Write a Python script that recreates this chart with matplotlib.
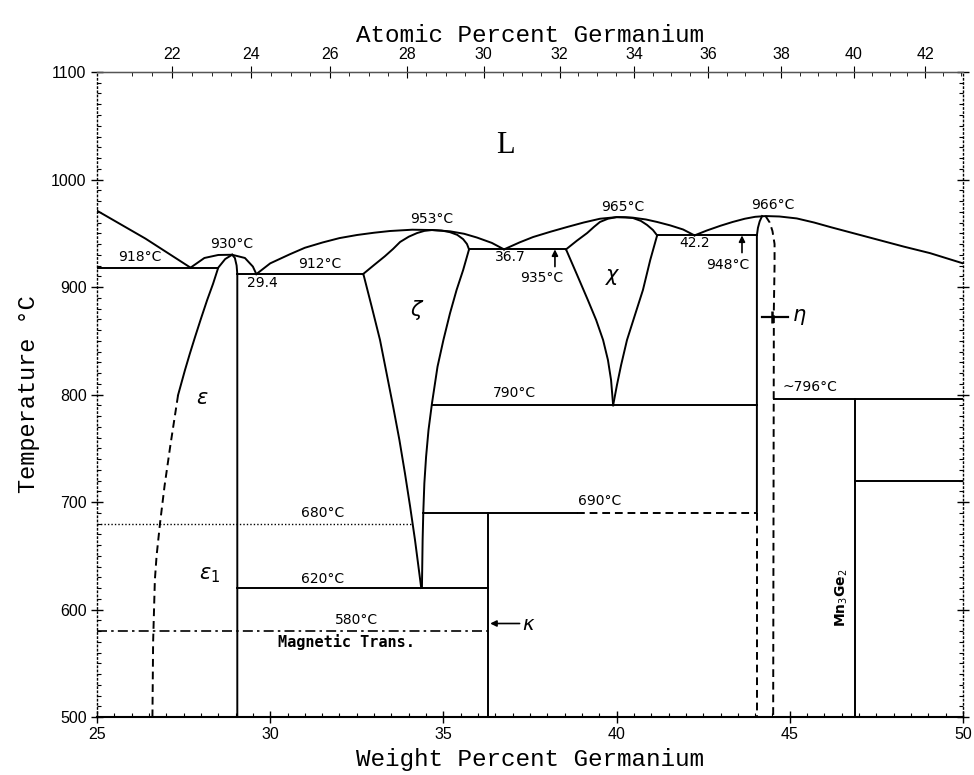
import matplotlib
matplotlib.use("Agg")
import matplotlib.pyplot as plt
import numpy as np

# ---------------- data (wt% Ge, temperature degC) ----------------
liq_a_wt = [25.0, 26.4, 27.7]
liq_a_T = [971, 945, 918]
liq_eps_wt = [27.7, 28.1, 28.5, 28.9, 29.27, 29.5, 29.6]
liq_eps_T = [918, 927, 929.8, 930, 927, 919, 912]
liq_zeta_wt = [29.6, 30.0, 30.57, 31.0, 31.52, 32.0, 32.51, 33.0, 33.46, 34.1, 34.67, 35.19, 35.6, 35.97, 36.4, 36.75]
liq_zeta_T = [912, 922, 930.5, 936.5, 941.5, 945.5, 948.4, 950.5, 952.1, 953.3, 953, 951.8, 949.5, 946, 941, 935]
liq_chi_wt = [36.75, 37.2, 37.59, 38.1, 38.57, 39.05, 39.52, 40.0, 40.47, 40.85, 41.17, 41.55, 41.92, 42.25]
liq_chi_T = [935, 941.5, 946.5, 951.5, 955.8, 960, 963.5, 965, 964.5, 962.8, 960.5, 957.3, 953.5, 948]
liq_eta_wt = [42.25, 42.6, 43.0, 43.35, 43.7, 44.0, 44.3, 44.7, 45.2, 45.7, 46.2, 46.9, 47.6, 48.3, 49.05, 50.0]
liq_eta_T = [948, 952.5, 957, 960.5, 963.5, 965.3, 966, 965.6, 963.8, 960, 955.5, 949.5, 943.5, 937.5, 931.5, 922]

eps_left_wt = [28.9, 28.7, 28.5, 28.35, 28.18, 28.0, 27.83, 27.68, 27.54, 27.34]
eps_left_T = [930, 926, 918, 903, 887.9, 870.5, 853.5, 838, 822.8, 799.5]
eps_left_dash_wt = [27.34, 27.11, 26.95, 26.82, 26.72, 26.67, 26.62, 26.6]
eps_left_dash_T = [799.5, 751, 715, 680.5, 650, 627.4, 570, 500]
eps_right_wt = [28.9, 28.98, 29.03, 29.05, 29.05]
eps_right_T = [930, 927, 920, 912, 500]

zeta_top_wt = [32.68, 33.0, 33.31, 33.55, 33.75, 34.0, 34.24, 34.45, 34.67, 34.95, 35.19, 35.4, 35.57, 35.68, 35.74]
zeta_top_T = [912, 920.5, 928.6, 935.5, 941.9, 946.8, 950.2, 952.2, 953, 952.5, 951, 948.5, 944.5, 940, 935]
zeta_low_left_wt = [32.69, 32.93, 33.17, 33.36, 33.55, 33.73, 33.89, 34.04, 34.18, 34.36]
zeta_low_left_T = [912, 881.7, 850.7, 819.7, 788.6, 757.7, 726.7, 695.6, 664.7, 620]
zeta_low_right_wt = [35.74, 35.57, 35.38, 35.19, 35.0, 34.83, 34.67, 34.57, 34.5, 34.45, 34.42, 34.4, 34.38]
zeta_low_right_T = [935, 915.8, 897.2, 875.5, 850.7, 825.9, 791.8, 767, 742.1, 717.4, 691.0, 664.7, 620]

chi_top_wt = [38.54, 38.85, 39.15, 39.35, 39.52, 39.75, 40.0, 40.25, 40.47, 40.7, 40.88, 41.05, 41.17]
chi_top_T = [935, 943, 950.2, 956, 960.5, 963.5, 965, 964.9, 964.2, 961.5, 957.7, 953, 948]
chi_low_left_wt = [38.54, 38.86, 39.17, 39.41, 39.61, 39.75, 39.84, 39.9]
chi_low_left_T = [935, 911.2, 887.9, 869.3, 850.7, 832.1, 813.5, 790]
chi_low_right_wt = [41.17, 40.97, 40.76, 40.53, 40.3, 40.13, 40.01, 39.9]
chi_low_right_T = [948, 925, 897.2, 874, 850.7, 827.4, 808.8, 790]

eta_left_wt = [44.2, 44.13, 44.08, 44.05, 44.05]
eta_left_T = [966, 961, 955, 948, 690]
eta_left_dash_wt = [44.05, 44.05]
eta_left_dash_T = [690, 500]
eta_right_wt = [44.3, 44.42, 44.5, 44.56, 44.56, 44.54, 44.52]
eta_right_T = [966, 960, 952, 940, 920, 880, 500]

# horizontal invariant lines: (wt_start, wt_end, T)
iso_solid = [(25.0, 28.5, 918), (29.05, 32.68, 912), (35.74, 38.54, 935),
             (41.17, 44.05, 948), (34.67, 44.05, 790), (34.41, 38.86, 690),
             (29.05, 36.3, 620), (44.53, 50.0, 796), (46.87, 50.0, 720)]
iso_dashed = [(38.86, 44.05, 690)]
iso_dotted = [(25.0, 34.09, 680)]
iso_dashdot = [(25.0, 36.3, 580)]
verticals = [(36.3, 500, 690), (46.87, 500, 796)]

# text labels (wt, T, text)
temp_labels = [(26.24, 928, "918°C"), (28.9, 940, "930°C"), (29.76, 903.5, "29.4"),
               (31.44, 921.5, "912°C"), (34.67, 963.5, "953°C"), (36.92, 928, "36.7"),
               (37.85, 908.5, "935°C"), (40.18, 974.5, "965°C"), (42.26, 941, "42.2"),
               (43.22, 920.5, "948°C"), (44.52, 976.5, "966°C"), (37.04, 801.5, "790°C"),
               (45.58, 807, "~796°C"), (39.5, 701, "690°C"), (31.52, 690, "680°C"),
               (31.5, 628.5, "620°C"), (32.5, 590, "580°C")]
phase_labels = [(28.03, 796.7, r"$\varepsilon$"), (28.26, 632, r"$\varepsilon_1$"),
                (34.24, 878.6, r"$\zeta$"), (39.9, 909.3, r"$\chi$")]

W_GE = 72.63
W_MN = 54.938


def wt_to_at(w):
    w = np.asarray(w, dtype=float)
    a = w / W_GE
    b = (100 - w) / W_MN
    return 100 * a / (a + b)


def at_to_wt(x):
    x = np.asarray(x, dtype=float)
    a = x * W_GE
    b = (100 - x) * W_MN
    return 100 * a / (a + b)


fig = plt.figure(figsize=(9.74, 7.75), dpi=100)
ax = fig.add_axes([0.0996, 0.0748, 0.8891, 0.8323])
ax.set_xlim(25, 50)
ax.set_ylim(500, 1100)

lw = 1.4
k = "black"
solid_sets = [(liq_a_wt, liq_a_T), (liq_eps_wt, liq_eps_T), (liq_zeta_wt, liq_zeta_T),
              (liq_chi_wt, liq_chi_T), (liq_eta_wt, liq_eta_T), (eps_left_wt, eps_left_T),
              (eps_right_wt, eps_right_T), (zeta_top_wt, zeta_top_T),
              (zeta_low_left_wt, zeta_low_left_T), (zeta_low_right_wt, zeta_low_right_T),
              (chi_top_wt, chi_top_T), (chi_low_left_wt, chi_low_left_T),
              (chi_low_right_wt, chi_low_right_T), (eta_left_wt, eta_left_T)]
for xs, ys in solid_sets:
    ax.plot(xs, ys, color=k, lw=lw, solid_joinstyle="round")

for xs, ys in [(eps_left_dash_wt, eps_left_dash_T), (eta_left_dash_wt, eta_left_dash_T),
               (eta_right_wt, eta_right_T)]:
    ax.plot(xs, ys, color=k, lw=lw, ls=(0, (4, 2.5)))

for x0, x1, t in iso_solid:
    ax.plot([x0, x1], [t, t], color=k, lw=lw)
for x0, x1, t in iso_dashed:
    ax.plot([x0, x1], [t, t], color=k, lw=lw, ls=(0, (4, 2.5)))
for x0, x1, t in iso_dotted:
    ax.plot([x0, x1], [t, t], color=k, lw=1.0, ls=(0, (1, 1.5)))
for x0, x1, t in iso_dashdot:
    ax.plot([x0, x1], [t, t], color=k, lw=1.2, ls=(0, (6, 2.5, 1.5, 2.5)))
for x, t0, t1 in verticals:
    ax.plot([x, x], [t0, t1], color=k, lw=lw)

tfont = dict(family=["DejaVu Sans"], fontsize=10, color=k, ha="center", va="center")
for x, t, s in temp_labels:
    ax.text(x, t, s, **tfont)
ax.text(32.2, 570, "Magnetic Trans.", family=["DejaVu Sans Mono"], fontsize=11,
        fontweight="bold", ha="center", va="center")

for x, t, s in phase_labels:
    ax.text(x, t, s, fontsize=15, ha="center", va="center")
ax.text(36.78, 1032, "L", family=["Liberation Serif"], fontsize=22, ha="center", va="center")
ax.text(46.5, 611, r"Mn$_3$Ge$_2$", fontsize=10, fontweight="bold", rotation=90,
        ha="center", va="center")

# arrows
ap = dict(arrowstyle="-|>", color=k, lw=1.2, mutation_scale=9, shrinkA=0, shrinkB=0)
ax.annotate("", xy=(38.22, 935), xytext=(38.22, 919), arrowprops=ap)
ax.annotate("", xy=(43.62, 948), xytext=(43.62, 932), arrowprops=ap)
ax.annotate("", xy=(36.35, 587), xytext=(37.2, 587), arrowprops=ap)
ax.text(37.45, 586, r"$\kappa$", fontsize=14, ha="center", va="center")
# eta marker
ax.plot([44.2, 44.95], [872, 872], color=k, lw=1.6)
ax.plot([44.49], [872], marker="|", ms=9, mew=1.8, color=k)
ax.text(45.28, 872, r"$\eta$", fontsize=15, ha="center", va="center")

# axes styling
tickfont = ["Liberation Sans Narrow", "Liberation Sans", "DejaVu Sans"]
ax.set_xticks(np.arange(25, 51, 5))
ax.set_xticks(np.arange(25, 50.01, 0.5), minor=True)
ax.set_yticks(np.arange(500, 1101, 100))
ax.set_yticks(np.arange(500, 1101, 10), minor=True)
ax.tick_params(axis="both", which="major", direction="inout", length=8, width=1.0,
               labelsize=11.5, right=True)
ax.tick_params(axis="both", which="minor", direction="in", length=3, width=0.8, right=True)
for lab in ax.get_xticklabels() + ax.get_yticklabels():
    lab.set_family(tickfont)
for side in ["left", "right"]:
    ax.spines[side].set_linestyle((0, (1, 2)))
    ax.spines[side].set_linewidth(1.0)
ax.spines["top"].set_linewidth(1.0)
ax.spines["top"].set_color("#555555")
ax.spines["bottom"].set_linewidth(1.5)

sec = ax.secondary_xaxis("top", functions=(wt_to_at, at_to_wt))
sec.set_xticks(np.arange(22, 43, 2))
sec.set_xticks(np.arange(21, 43.01, 0.5), minor=True)
sec.tick_params(which="major", direction="inout", length=8, labelsize=11.5)
sec.tick_params(which="minor", direction="in", length=3)
for lab in sec.get_xticklabels():
    lab.set_family(tickfont)
sec.set_xlabel("Atomic Percent Germanium", family=["Liberation Mono"], fontsize=17.5, labelpad=3)

ax.set_xlabel("Weight Percent Germanium", family=["Liberation Mono"], fontsize=17.5, labelpad=4)
ax.set_ylabel("Temperature °C", family=["Liberation Mono"], fontsize=17, labelpad=8)

fig.savefig("out.png", dpi=100)
